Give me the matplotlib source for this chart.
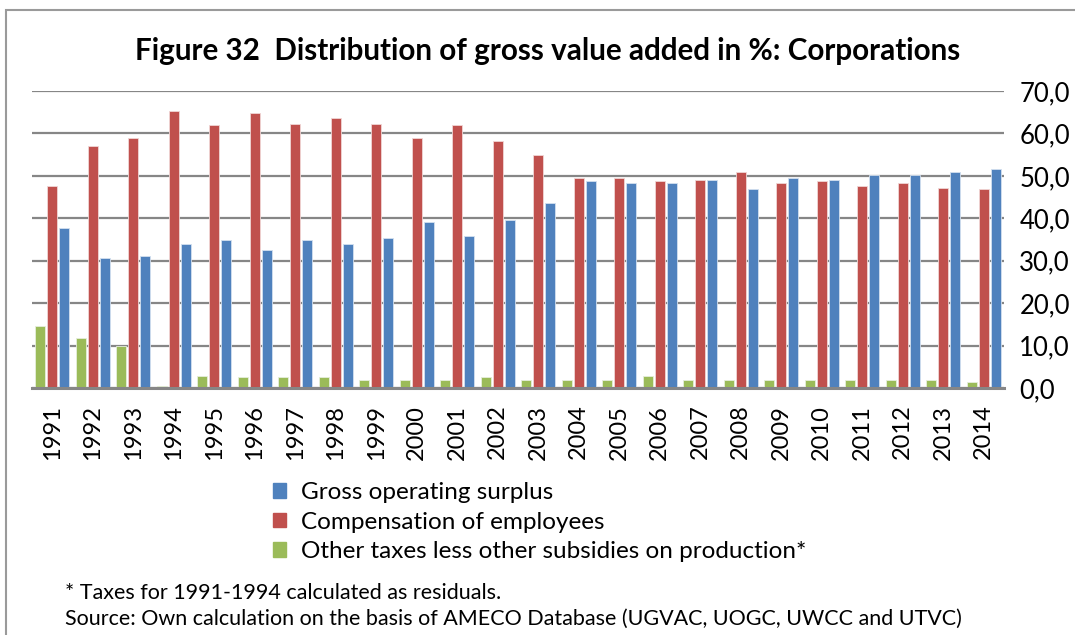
import numpy as np
import matplotlib
matplotlib.use("Agg")
import matplotlib.pyplot as plt
from matplotlib.patches import Patch, Rectangle

plt.rcParams['font.family'] = ['Lato', 'DejaVu Sans']

# data
years = [str(y) for y in range(1991, 2015)]
other_taxes = [14.7, 11.9, 10.0, 0.5, 2.9, 2.5, 2.5, 2.5, 1.9, 1.9, 1.9, 2.5,
               1.9, 1.9, 1.9, 2.9, 1.9, 1.9, 1.9, 1.9, 1.9, 1.9, 1.9, 1.5]
compensation = [47.7, 57.1, 59.0, 65.2, 61.9, 64.7, 62.3, 63.7, 62.3, 59.0, 61.9, 58.1,
                54.8, 49.6, 49.6, 48.7, 49.1, 51.0, 48.2, 48.7, 47.7, 48.2, 47.2, 46.8]
surplus = [37.8, 30.7, 31.2, 34.0, 35.0, 32.6, 35.0, 34.0, 35.4, 39.2, 35.9, 39.7,
           43.5, 48.7, 48.2, 48.2, 49.1, 46.8, 49.6, 49.1, 50.1, 50.1, 51.0, 51.5]
y_ticks = [0, 10, 20, 30, 40, 50, 60, 70]

c_blue = '#4F81BD'
c_red = '#C0504D'
c_green = '#9BBB59'
grid_col = '#868686'

W, H = 1075, 635
fig = plt.figure(figsize=(W / 100, H / 100), dpi=100)
ax = fig.add_axes([32 / W, 1 - 388 / H, (1004 - 32) / W, (388 - 91) / H])

x = np.arange(len(years))
bw = 0.25
step = 0.3
ax.bar(x - step, other_taxes, bw, color=c_green, edgecolor='#e6eedb', linewidth=0.6, zorder=3)
ax.bar(x, compensation, bw, color=c_red, edgecolor='#f0d6d5', linewidth=0.6, zorder=3)
ax.bar(x + step, surplus, bw, color=c_blue, edgecolor='#d3e0ef', linewidth=0.6, zorder=3)

ax.set_xlim(-0.5, len(years) - 0.5)
ax.set_ylim(0, 70)
ax.set_yticks(y_ticks)
ax.set_yticklabels(['%d,0' % v for v in y_ticks])
ax.yaxis.tick_right()
ax.tick_params(axis='y', length=0, pad=11, labelsize=18.5, colors='black')
ax.set_xticks(x)
ax.set_xticklabels(years, rotation=90, fontsize=17)
ax.tick_params(axis='x', length=0, pad=12)

ax.grid(axis='y', color=grid_col, linewidth=1.6, zorder=0)
for s in ['top', 'left', 'right']:
    ax.spines[s].set_visible(False)
ax.spines['bottom'].set_color(grid_col)
ax.spines['bottom'].set_linewidth(2.2)
ax.spines['bottom'].set_zorder(4)

fig.text(548 / W, 1 - 51 / H, 'Figure 32  Distribution of gross value added in %: Corporations',
         ha='center', va='center', fontsize=21.3, fontweight='bold')

handles = [Patch(color=c_blue, label='Gross operating surplus'),
           Patch(color=c_red, label='Compensation of employees'),
           Patch(color=c_green, label='Other taxes less other subsidies on production*')]
fig.legend(handles=handles, loc='upper left', bbox_to_anchor=(273 / W, 1 - 482 / H),
           frameon=False, fontsize=17.5, handlelength=0.55, handleheight=0.55,
           handletextpad=0.6, labelspacing=0.35, borderaxespad=0, borderpad=0)

fig.text(65 / W, 1 - 593 / H, '* Taxes for 1991-1994 calculated as residuals.',
         ha='left', va='center', fontsize=15.5)
fig.text(65 / W, 1 - 619 / H,
         'Source: Own calculation on the basis of AMECO Database (UGVAC, UOGC, UWCC and UTVC)',
         ha='left', va='center', fontsize=15.5)

fig.patches.append(Rectangle((6 / W, -0.1), 1.2, 1 + 0.1 - 10 / H, transform=fig.transFigure,
                             fill=False, edgecolor='#9a9a9a', linewidth=1.5))

fig.savefig('out.png', dpi=100)
